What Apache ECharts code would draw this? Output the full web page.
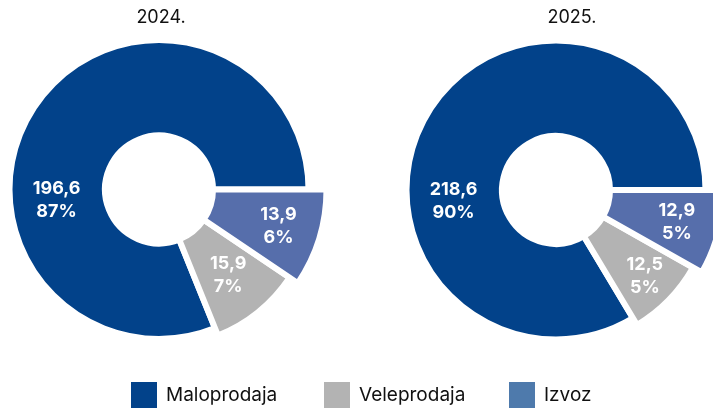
<!DOCTYPE html>
<html>
<head>
<meta charset="UTF-8">
<title>Prodaja 2024.-2025.</title>
<script src="https://cdn.jsdelivr.net/npm/echarts@6/dist/echarts.min.js"></script>
<style>
  html, body { margin: 0; padding: 0; background: #fff; }
  #main { width: 713px; height: 408px; }
</style>
</head>
<body>
<div id="main"></div>
<script>
var categories = ['Maloprodaja', 'Veleprodaja', 'Izvoz'];
var years = ['2024.', '2025.'];
var values2024 = [196.6, 15.9, 13.9];
var values2025 = [218.6, 12.5, 12.9];

var font = 'Inter, "Noto Sans", sans-serif';
var sliceColors = ['#02428a', '#b3b3b3', '#566eab'];
var legendColors = ['#02428a', '#b3b3b3', '#4e7aac'];

// layout of the two donuts
var centers = [[159, 189.5], [556, 190]];
var minAngles = [34, 29.5];
var innerRadius = 54;
var outerRadius = [149.5, 157.5, 167.5];
var labelRadius = [[103, 110, 125], [103, 124, 125]];
var legendLeft = [131, 324, 509];

function fmtLabel(p) {
	return p.value.toFixed(1).replace('.', ',') + '\n' + p.percent + '%';
}

// big slice label sits left of the hole, the small ones stay on their mid angle
function labelPlacer(cx, cy, radii) {
	return function (p) {
		var k = p.dataIndex;
		var r = p.labelRect;
		var a = Math.atan2(r.y + r.height / 2 - cy, r.x + r.width / 2 - cx);
		if (k === 0) a = 174 * Math.PI / 180;
		return {
			x: cx + radii[k] * Math.cos(a),
			y: cy + radii[k] * Math.sin(a),
			align: 'center',
			verticalAlign: 'middle'
		};
	};
}

var series = [];
years.forEach(function (year, y) {
	var vals = y === 0 ? values2024 : values2025;
	categories.forEach(function (cat, k) {
		series.push({
			type: 'pie',
			name: year + ' ' + cat,
			center: centers[y],
			radius: [innerRadius, outerRadius[k]],
			startAngle: 0,
			clockwise: false,
			minAngle: minAngles[y],
			percentPrecision: 0,
			avoidLabelOverlap: false,
			silent: true,
			animation: false,
			labelLine: { show: false },
			label: {
				position: 'inside',
				color: '#fff',
				fontFamily: font,
				fontWeight: 'bold',
				fontSize: 18,
				lineHeight: 23,
				formatter: fmtLabel
			},
			labelLayout: labelPlacer(centers[y][0], centers[y][1], labelRadius[y]),
			data: categories.map(function (c, j) {
				var on = j === k;
				return {
					name: c,
					value: vals[j],
					itemStyle: on
						? { color: sliceColors[j], borderColor: '#fff', borderWidth: 6 }
						: { color: 'rgba(0,0,0,0)', borderWidth: 0 },
					label: { show: on }
				};
			})
		});
	});
});

var myChart = echarts.init(document.getElementById('main'));
var option = {
	backgroundColor: '#fff',
	title: years.map(function (t, i) {
		return {
			text: t,
			left: i === 0 ? 161 : 572,
			top: 9,
			padding: 0,
			textAlign: 'center',
			textStyle: { fontFamily: font, fontWeight: 'normal', fontSize: 18, color: '#111' }
		};
	}),
	legend: categories.map(function (c, i) {
		return {
			data: [{ name: c, itemStyle: { color: legendColors[i], borderWidth: 0 } }],
			left: legendLeft[i],
			top: 382,
			padding: 0,
			icon: 'rect',
			itemWidth: 26,
			itemHeight: 26,
			selectedMode: false,
			itemStyle: { borderWidth: 0 },
			textStyle: { fontFamily: font, fontSize: 19, color: '#111', padding: [0, 0, 0, 4] }
		};
	}),
	series: series
};
myChart.setOption(option, true);
</script>
</body>
</html>
